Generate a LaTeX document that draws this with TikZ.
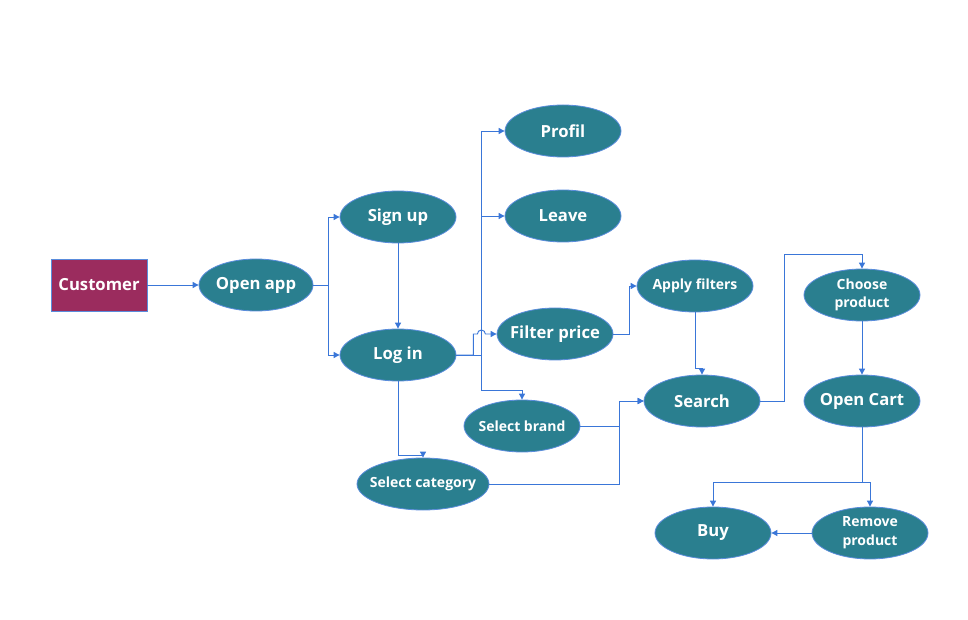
\documentclass[tikz,border=0pt]{standalone}
\usepackage{fontspec}
\setmainfont{Open Sans}
\usetikzlibrary{shapes.geometric,arrows.meta,calc}
\definecolor{teal1}{RGB}{42,127,143}
\definecolor{mag1}{RGB}{155,44,94}
\definecolor{line1}{RGB}{58,118,216}
\definecolor{edge1}{RGB}{90,140,220}
\tikzset{
  oval/.style={ellipse, fill=teal1, draw=edge1, line width=0.6pt, inner xsep=-14pt, inner ysep=-6pt,
    minimum width=87pt, minimum height=39pt, text=white, font=\bfseries\fontsize{12.5}{13}\selectfont, align=center},
  ovals/.style={oval, font=\bfseries\fontsize{10.5}{14}\selectfont},
  custbox/.style={rectangle, fill=mag1, draw=edge1, line width=0.6pt, inner sep=0pt,
    minimum width=72pt, minimum height=39pt, text=white, font=\bfseries\fontsize{12.5}{13}\selectfont},
  conn/.style={draw=line1, line width=0.7pt, -{Triangle[length=4.5pt,width=4.5pt]}}
}
\begin{document}
\begin{tikzpicture}[x=0.75pt,y=-0.75pt]
\useasboundingbox (0,0) rectangle (968,620);
\node[custbox] (cust) at (99,285) {Customer};
\node[oval, minimum width=85.5pt] (open) at (256,285) {Open app};
\node[oval] (signup) at (398,217) {Sign up};
\node[oval] (login) at (398,355) {Log in};
\node[oval] (profil) at (563,131) {Profil};
\node[oval] (leave) at (563,216) {Leave};
\node[oval] (filter) at (555,334) {Filter price};
\node[ovals] (brand) at (522,426) {Select brand};
\node[ovals, minimum width=99pt] (cat) at (423,484) {Select category};
\node[ovals] (apply) at (695,286) {Apply filters};
\node[oval] (search) at (702,401) {Search};
\node[ovals] (choose) at (862,295) {Choose\\product};
\node[oval] (cart) at (862,401) {Open Cart};
\node[oval] (buy) at (713,533) {Buy};
\node[ovals] (remove) at (870,533) {Remove\\product};

\coordinate (sx) at (619,0);

\draw[conn] (cust.east) -- (open.west);
\draw[conn] (open.east) -- ++(15,0) |- (signup.west);
\draw[conn] (open.east) -- ++(15,0) |- (login.west);
\draw[conn] (signup.south) -- (login.north);
\draw[conn] (login.east) -- ++(25,0) |- (profil.west);
\draw[conn] (login.east) -- ++(25,0) |- (leave.west);
\draw[conn] (login.east) -- ++(25,0) -- ++(0,35) -| (brand.north);
\path (login.east) ++(17,0) coordinate (j1);
\path (j1 |- filter.west) ++(4,0) coordinate (j2);
\draw[conn] (login.east) -- (j1) -- (j1 |- filter.west) -- (j2) arc[start angle=180,end angle=0,radius=3pt] -- (filter.west);
\draw[conn] (login.south) -- ++(0,74) -| (cat.north);
\draw[conn] (filter.east) -- ++(16,0) |- (apply.west);
\draw[conn] (apply.south) -- ++(0,56) -| (search.north);
\draw[conn] (brand.east) -| (sx |- search.west) -- (search.west);
\draw[conn] (cat.east) -| (sx |- search.west) -- (search.west);
\draw[conn] (search.east) -- ++(24,0) |- ($(choose.north)+(0,-14)$) -- (choose.north);
\draw[conn] (choose.south) -- (cart.north);
\draw[conn] (cart.south) -- ++(0,55) -| (buy.north);
\draw[conn] (cart.south) -- ++(0,55) -| (remove.north);
\draw[conn] (remove.west) -- (buy.east);
\end{tikzpicture}
\end{document}
